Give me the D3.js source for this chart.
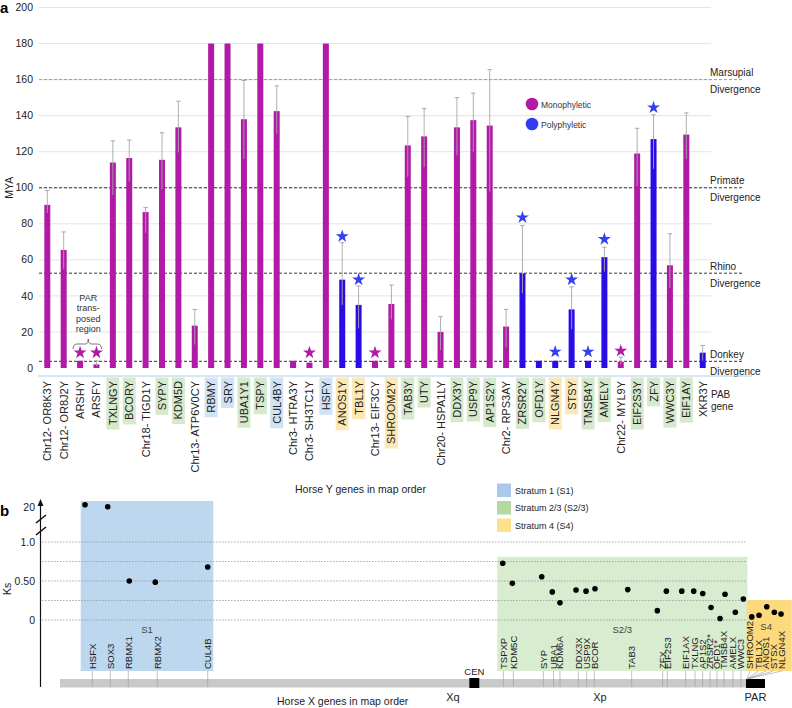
<!DOCTYPE html>
<html><head><meta charset="utf-8">
<script src="https://cdn.jsdelivr.net/npm/d3@7"></script>
<style>
body{margin:0;background:#fff;}
svg{font-family:"Liberation Sans",Arial,Helvetica,sans-serif;}
</style></head>
<body><svg id="c" width="792" height="708"></svg>
<script>
// ---------- Panel a data ----------
const genesA = ["Chr12- OR8K3Y","Chr12- OR8J2Y","ARSHY","ARSFY","TXLNGY","BCORY","Chr18- TIGD1Y","SYPY","KDM5D","Chr13- ATP6V0CY",
"RBMY","SRY","UBA1Y1","TSPY","CUL4BY","Chr3- HTRA3Y","Chr3- SH3TC1Y","HSFY","ANOS1Y","TBL1Y","Chr13- EIF3CY","SHROOM2Y",
"TAB3Y","UTY","Chr20- HSPA1LY","DDX3Y","USP9Y","AP1S2Y","Chr2- RPS3AY","ZRSR2Y","OFD1Y","NLGN4Y","STSY","TMSB4Y","AMELY",
"Chr22- MYL9Y","EIF2S3Y","ZFY","WWC3Y","EIF1AY","XKR3Y"];
const myaValues = [90.5,65.5,4,2,114,116.5,86.5,115.5,133.5,23.5,180,180,138,180,142.5,4,3,180,49,35,4,35.5,
123.5,128.5,20,133.5,137.5,134.5,23,52.5,4,4,32.5,4,61.5,3.5,119,127,57,129.5,8.5];
const myaLow  = [86,55,null,1,96,103.5,75,99,119.5,13,null,null,116,null,130,null,null,null,35,22,null,27,
106,111.5,10,118,120,98,11.5,41.5,null,null,21.5,null,53.5,2,101,110.5,44.5,116,4];
const myaHigh = [98.5,75.5,null,4,126,126.5,89,130.5,148,32.5,null,null,159.5,null,156.5,null,null,null,69.5,45.5,null,46,
139.5,144,28.5,150,152.5,165.5,32.5,79,null,null,45,null,67,6,133,140.5,74.5,141.5,12.5];
const phylogeny = ["m","m","m","m","m","m","m","m","m","m","m","m","m","m","m","m","m","m","p","p","m","m",
"m","m","m","m","m","m","m","p","p","p","p","p","p","m","m","p","m","m","p"];
const labelStratum = ["","","","","g","g","","g","g","","b","b","g","g","b","","","b","y","y","","y",
"g","g","","g","g","g","","g","g","y","y","g","g","","g","g","g","g",""];
const starAt = {"ARSHY":8.5,"ARSFY":8.5,"Chr3- SH3TC1Y":8.5,"ANOS1Y":73,"TBL1Y":49,"Chr13- EIF3CY":8.5,"ZRSR2Y":83.5,
"NLGN4Y":9,"STSY":49,"TMSB4Y":9,"AMELY":71.5,"Chr22- MYL9Y":9.5,"ZFY":144.5};
const yTicksA = [0,20,40,60,80,100,120,140,160,180,200];
const divergences = [{name:["Marsupial","Divergence"],mya:160,col:"#9a9a9a"},
  {name:["Primate","Divergence"],mya:100,col:"#333"},
  {name:["Rhino","Divergence"],mya:52.6,col:"#333"},
  {name:["Donkey","Divergence"],mya:3.7,col:"#333"}];
const legendA = [{k:"m",label:"Monophyletic"},{k:"p",label:"Polyphyletic"}];

// ---------- Panel b data ----------
const genesB = ["HSFX","SOX3","RBMX1","RBMX2","CUL4B","TSPXP","KDM5C","SYP","UBA1","KDM6A","DDX3X","USP9X","BCOR","TAB3",
"ZFX","EIF2S3","EIF1AX","TXLNG","AP1S2","ZRSR2*","OFD1*","TMSB4X","AMELX","WWC3","SHROOM2","TBL1X","ANOS1","STSX","NLGN4X"];
const xMapMb = [5.68,8.85,12.01,17.11,25.98,77.97,79.73,85.01,86.8,87.94,91.16,92.64,93.98,100.55,
106.01,106.82,110.05,111.69,113.04,114.33,115.56,116.79,118.37,119.78,121.36,122.82,124.18,125.46,126.94];
const yMapMb = [4.4,8.39,12.19,16.76,25.98,77.87,79.56,84.73,86.59,87.94,90.76,92.52,94.1,99.86,
105.06,106.65,109.36,111.46,113.05,114.51,116.09,116.97,118.78,120.19,121.67,122.95,124.31,125.64,126.82];
const ksValues = [20.23,20.03,0.5,0.485,0.68,0.727,0.47,0.555,0.36,0.22,0.385,0.37,0.4,0.39,
0.12,0.37,0.37,0.37,0.34,0.16,0.02,0.33,0.1,0.27,0.04,0.06,0.17,0.1,0.077];
const geneStratum = ["S1","S1","S1","S1","S1","S2","S2","S2","S2","S2","S2","S2","S2","S2",
"S2","S2","S2","S2","S2","S2","S2","S2","S2","S2","S4","S4","S4","S4","S4"];
const strata = [{k:"S1",label:"Stratum 1 (S1)",tag:"S1",from:3.64,to:26.96,top:20.6},
  {k:"S2",label:"Stratum 2/3 (S2/3)",tag:"S2/3",from:76.9,to:120.9,top:0.81},
  {k:"S4",label:"Stratum 4 (S4)",tag:"S4",from:120.8,to:128.7,top:0.256}];
const ksTicks = [{v:0,t:"0"},{v:0.5,t:"0.50"},{v:1,t:"1.0"},{v:20,t:"20"}];
const ksGrid = [0,0.25,0.5,0.75,1];
const chromLenMb = 124, cenMb = [72.0,73.75], parMb = [120.66,124];

// ---------- styling ----------
const COL = {m:"#B01AA6", p:"#2A0CE6"};
const STARCOL = {m:"#B01AA6", p:"#3340EE"};
const LEGCOL = {m:"#B01AA6", p:"#2F3CF2"};
const LABBG = {g:"#d6e9cc", b:"#d0e2f3", y:"#fde8b4"};
const STRATFILL = {S1:"#bdd7ee", S2:"#d8eccf", S4:"#fcd97c"};
const STRATLEG = {S1:"#a9c8ea", S2:"#b3d8a0", S4:"#fde08c"};

const svg = d3.select("#c");
svg.append("rect").attr("width",792).attr("height",708).attr("fill","#fff");

// ================= Panel a =================
const ya = d3.scaleLinear().domain([0,200]).range([368,7.5]);
const xa = d3.scalePoint().domain(genesA).range([47.3,702.7]);
const ga = svg.append("g");

ga.append("text").attr("x",0).attr("y",13).attr("font-weight","bold").attr("font-size",15).text("a");

// grid
ga.selectAll(".grid").data(yTicksA.filter(d=>d>0)).join("line")
  .attr("x1",39).attr("x2",711).attr("y1",d=>ya(d)).attr("y2",d=>ya(d))
  .attr("stroke","#e4e4e4").attr("stroke-width",1);
ga.selectAll(".yt").data(yTicksA).join("text")
  .attr("x",33).attr("y",d=>ya(d)+3.6).attr("text-anchor","end").attr("font-size",10.5).attr("fill","#222").text(d=>d);
ga.append("text").attr("transform",`translate(13,${ya(100)}) rotate(-90)`).attr("text-anchor","middle")
  .attr("font-size",10.5).attr("fill","#222").text("MYA");

// divergence lines
divergences.forEach(d=>{
  ga.append("line").attr("x1",39).attr("x2",742).attr("y1",ya(d.mya)).attr("y2",ya(d.mya))
    .attr("stroke",d.col).attr("stroke-width",1).attr("stroke-dasharray","3,2");
  const yy = ya(d.mya);
  ga.append("text").attr("x",710).attr("y",yy-7+3.5).attr("font-size",10).attr("fill","#222").text(d.name[0]);
  ga.append("text").attr("x",710).attr("y",yy+10+3.5).attr("font-size",10).attr("fill","#222").text(d.name[1]);
});

// baseline
ga.append("line").attr("x1",38).attr("x2",752).attr("y1",376).attr("y2",376).attr("stroke","#a9d0ea").attr("stroke-width",1);

// bars
const bw = 6;
ga.selectAll(".bar").data(genesA).join("rect")
  .attr("x",d=>xa(d)-bw/2).attr("width",bw)
  .attr("y",(d,i)=>ya(myaValues[i])).attr("height",(d,i)=>ya(0)-ya(myaValues[i]))
  .attr("fill",(d,i)=>COL[phylogeny[i]]);

// error bars
genesA.forEach((g,i)=>{
  if(myaHigh[i]==null) return;
  const x = xa(g);
  ga.append("line").attr("x1",x).attr("x2",x).attr("y1",ya(myaLow[i])).attr("y2",ya(myaHigh[i]))
    .attr("stroke","#a8a8a8").attr("stroke-width",1).attr("opacity",0.9);
  ga.append("line").attr("x1",x-2.2).attr("x2",x+2.2).attr("y1",ya(myaHigh[i])).attr("y2",ya(myaHigh[i]))
    .attr("stroke","#a8a8a8").attr("stroke-width",1);
});

// stars
const star = d3.symbol().type(d3.symbolStar).size(52);
Object.keys(starAt).forEach(g=>{
  const i = genesA.indexOf(g);
  ga.append("path").attr("d",star()).attr("transform",`translate(${xa(g)},${ya(starAt[g])})`)
    .attr("fill",STARCOL[phylogeny[i]]);
});

// legend
legendA.forEach((d,k)=>{
  ga.append("circle").attr("cx",532).attr("cy",104+k*20).attr("r",6.3).attr("fill",LEGCOL[d.k]);
  ga.append("text").attr("x",541).attr("y",104+k*20+3.5).attr("font-size",8.5).attr("fill","#333").text(d.label);
});

// PAR transposed region annotation
const parLines = ["PAR","trans-","posed","region"];
const parX = (xa("ARSHY")+xa("ARSFY"))/2;
parLines.forEach((t,k)=>ga.append("text").attr("x",parX).attr("y",301+k*10.3).attr("text-anchor","middle")
  .attr("font-size",9).attr("fill","#333").text(t));
const bx0 = xa("ARSHY")-7, bx1 = xa("ARSFY")+5;
ga.append("path").attr("d",`M${bx0},349 Q${bx0},344 ${bx0+4},344 L${parX-3},344 Q${parX},344 ${parX},339 Q${parX},344 ${parX+3},344 L${bx1-4},344 Q${bx1},344 ${bx1},349`)
  .attr("fill","none").attr("stroke","#555").attr("stroke-width",0.8);

// x labels with stratum backgrounds
const labG = ga.append("g");
genesA.forEach((g,i)=>{
  const x = xa(g);
  const bg = labG.append("rect");
  const t = labG.append("text").attr("transform",`translate(${x+4},381) rotate(-90)`)
    .attr("text-anchor","end").attr("font-size",11).attr("fill","#222").text(g);
  const len = t.node().getComputedTextLength();
  if(labelStratum[i]){
    bg.attr("x",x-6.5).attr("width",13).attr("y",377.5).attr("height",len+8).attr("fill",LABBG[labelStratum[i]]);
  } else bg.remove();
});
ga.append("text").attr("x",711).attr("y",398).attr("font-size",10).attr("fill","#222").text("PAB");
ga.append("text").attr("x",711).attr("y",410).attr("font-size",10).attr("fill","#222").text("gene");

// ================= Panel b =================
const gb = svg.append("g");
const xb = d3.scaleLinear().domain([0,chromLenMb]).range([60,765]);
const yb = d3.scaleLinear().domain([0,1,20,21]).range([620,542,507,497]);
const labelBottom = 671;

gb.append("text").attr("x",0).attr("y",516).attr("font-weight","bold").attr("font-size",15).text("b");

// strata rects
strata.forEach(s=>{
  gb.append("rect").attr("x",xb(s.from)).attr("width",xb(s.to)-xb(s.from))
    .attr("y",yb(s.top)).attr("height",labelBottom-yb(s.top)).attr("fill",STRATFILL[s.k]);
});

// grid dotted
gb.selectAll(".kg").data(ksGrid).join("line")
  .attr("x1",42).attr("x2",747).attr("y1",d=>yb(d)).attr("y2",d=>yb(d))
  .attr("stroke","#9a9a9a").attr("stroke-width",0.8).attr("stroke-dasharray","1.6,1.4");

// y axis
gb.append("line").attr("x1",40.5).attr("x2",40.5).attr("y1",687).attr("y2",505).attr("stroke","#111").attr("stroke-width",1.2);
gb.append("path").attr("d","M37.5,506 L40.5,499 L43.5,506 Z").attr("fill","#111");
[519,531].forEach(y=>gb.append("line").attr("x1",36).attr("x2",46).attr("y1",y+4).attr("y2",y-4).attr("stroke","#111").attr("stroke-width",1.6));
gb.selectAll(".kt").data(ksTicks).join("text")
  .attr("x",35).attr("y",d=>yb(d.v)+3.6).attr("text-anchor","end").attr("font-size",10.5).attr("fill","#222").text(d=>d.t);
gb.append("text").attr("transform",`translate(11,${yb(0.4)}) rotate(-90)`).attr("text-anchor","middle")
  .attr("font-size",10.5).attr("fill","#222").text("Ks");

// strata tags
strata.forEach(s=>{
  const cx = s.k==="S4" ? xb(124.2) : (xb(s.from)+xb(s.to))/2;
  gb.append("text").attr("x",cx).attr("y",s.k==="S4"?630:633).attr("text-anchor","middle")
    .attr("font-size",9.5).attr("fill","#444").text(s.tag);
});

// chromosome
gb.append("rect").attr("x",xb(0)).attr("width",xb(parMb[0])-xb(0)).attr("y",679).attr("height",8.5).attr("fill","#c9c9c9");
gb.append("rect").attr("x",xb(cenMb[0])).attr("width",xb(cenMb[1])-xb(cenMb[0])).attr("y",678).attr("height",10).attr("fill","#000");
gb.append("rect").attr("x",xb(parMb[0])).attr("width",xb(parMb[1])-xb(parMb[0])).attr("y",679).attr("height",9).attr("fill","#000");

// gene ticks & labels
genesB.forEach((g,i)=>{
  const x = xb(xMapMb[i]);
  if(geneStratum[i]==="S4"){
    gb.append("line").attr("x1",x).attr("x2",xb(parMb[0])+1).attr("y1",labelBottom).attr("y2",679)
      .attr("stroke","#9a9a9a").attr("stroke-width",0.6);
  } else {
    gb.append("line").attr("x1",x).attr("x2",x).attr("y1",labelBottom).attr("y2",687)
      .attr("stroke","#9a9a9a").attr("stroke-width",0.6);
  }
  gb.append("text").attr("transform",`translate(${x+3.3},${labelBottom-2}) rotate(-90)`)
    .attr("font-size",9.5).attr("fill","#222").text(g);
});

// points
gb.selectAll(".pt").data(genesB).join("circle")
  .attr("cx",(d,i)=>xb(yMapMb[i])).attr("cy",(d,i)=>yb(ksValues[i])).attr("r",2.8).attr("fill","#000");

// chromosome labels
gb.append("text").attr("x",xb((cenMb[0]+cenMb[1])/2)).attr("y",675).attr("text-anchor","middle").attr("font-size",9.5).attr("fill","#222").text("CEN");
gb.append("text").attr("x",453).attr("y",701).attr("text-anchor","middle").attr("font-size",11).attr("fill","#222").text("Xq");
gb.append("text").attr("x",600).attr("y",701).attr("text-anchor","middle").attr("font-size",11).attr("fill","#222").text("Xp");
gb.append("text").attr("x",(xb(parMb[0])+xb(parMb[1]))/2).attr("y",701).attr("text-anchor","middle").attr("font-size",11).attr("fill","#222").text("PAR");
gb.append("text").attr("x",277).attr("y",705).attr("font-size",10.5).attr("fill","#222").text("Horse X genes in map order");
gb.append("text").attr("x",295).attr("y",493).attr("font-size",10.5).attr("fill","#222").text("Horse Y genes in map order");

// strata legend
strata.forEach((s,k)=>{
  gb.append("rect").attr("x",497).attr("y",483.5+k*17.5).attr("width",14).attr("height",13.5).attr("fill",STRATLEG[s.k]);
  gb.append("text").attr("x",515).attr("y",493.5+k*17.5).attr("font-size",9).attr("fill","#222").text(s.label);
});
</script></body></html>
